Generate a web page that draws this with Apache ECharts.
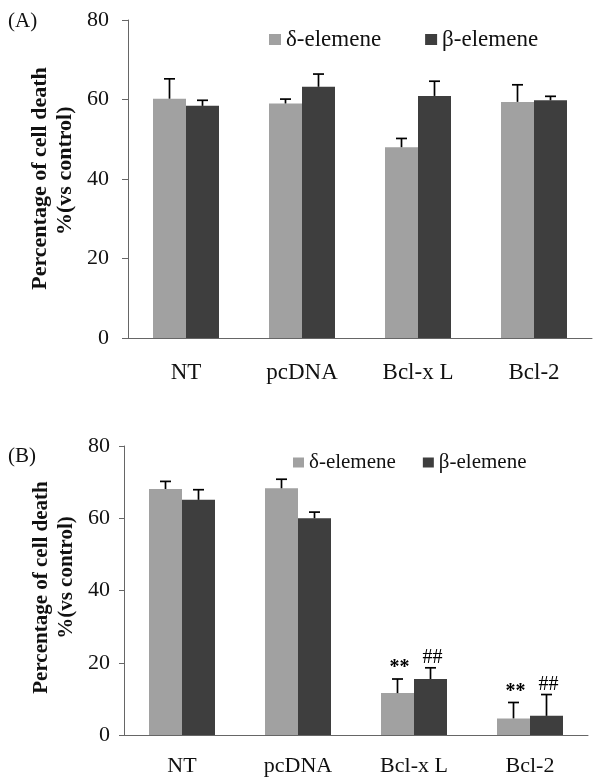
<!DOCTYPE html>
<html><head><meta charset="utf-8">
<script src="https://cdn.jsdelivr.net/npm/echarts@6/dist/echarts.min.js"></script>
<style>html,body{margin:0;padding:0;background:#fff}#c{width:594px;height:777px}</style>
</head><body><div id="c"></div>
<script>
const categories = ['NT', 'pcDNA', 'Bcl-x L', 'Bcl-2'];
const seriesNames = ['δ-elemene', 'β-elemene'];
const tickValues = [0, 20, 40, 60, 80];
// Panel A
const deltaA = [60.2, 59.0, 48.0, 59.4];
const deltaAErr = [5.0, 1.1, 2.2, 4.3];
const betaA = [58.4, 63.2, 60.9, 59.8];
const betaAErr = [1.4, 3.2, 3.7, 1.0];
// Panel B
const deltaB = [68.1, 68.3, 11.6, 4.6];
const deltaBErr = [2.1, 2.5, 3.9, 4.4];
const betaB = [65.1, 60.0, 15.5, 5.3];
const betaBErr = [2.8, 1.7, 3.1, 5.9];
const deltaBMarks = ['', '', '**', '**'];
const betaBMarks = ['', '', '##', '##'];
const noMarks = ['', '', '', ''];

const SERIF = '"Liberation Serif", "Times New Roman", serif';
const LIGHT = '#a1a1a1', DARK = '#3e3e3e', AXIS = '#666';
const BAR_W = 33;

function errRender(offset, marks, markDy) {
  return function (params, api) {
    const i = api.value(0), v = api.value(1), e = api.value(2);
    const base = api.coord([i, v]);
    const top = api.coord([i, v + e]);
    const x = base[0] + offset;
    const st = { stroke: '#000', lineWidth: 1.7 };
    const children = [
      { type: 'line', shape: { x1: x, y1: base[1], x2: x, y2: top[1] }, style: st },
      { type: 'line', shape: { x1: x - 5.5, y1: top[1], x2: x + 5.5, y2: top[1] }, style: st }
    ];
    const m = marks[params.dataIndex];
    if (m) {
      children.push({ type: 'text', x: x + 2, y: top[1] - markDy,
        style: { text: m, fontSize: 20, fontFamily: SERIF, fontWeight: m === '**' ? 'bold' : 'normal',
          fill: '#000', align: 'center', verticalAlign: 'middle', textAlign: 'center', textVerticalAlign: 'middle' } });
    }
    return { type: 'group', children };
  };
}

function errData(vals, errs) { return vals.map((v, i) => [i, v, errs[i]]); }

function yAxisCfg(gi, tickLen, margin) {
  return {
    gridIndex: gi, type: 'value', min: tickValues[0], max: tickValues[tickValues.length - 1], interval: 20,
    splitLine: { show: false },
    axisLine: { show: true, lineStyle: { color: AXIS, width: 1 } },
    axisTick: { show: true, length: tickLen, lineStyle: { color: AXIS } },
    axisLabel: { margin: margin, color: '#111', fontSize: 22, fontFamily: SERIF }
  };
}
function xAxisCfg(gi, fs, margin) {
  return {
    gridIndex: gi, type: 'category', data: categories,
    axisLine: { show: true, lineStyle: { color: AXIS, width: 1 } },
    axisTick: { show: false },
    axisLabel: { margin: margin, color: '#111', fontSize: fs, fontFamily: SERIF, interval: 0 }
  };
}
function titleText(x, y, txt, fs) {
  return { type: 'text', x: x, y: y, rotation: Math.PI / 2,
    style: { text: txt, fontSize: fs, fontWeight: 'bold', fontFamily: SERIF, fill: '#111',
      align: 'center', verticalAlign: 'middle', textAlign: 'center', textVerticalAlign: 'middle' } };
}
function plainText(x, y, txt, fs) {
  return { type: 'text', x: x, y: y,
    style: { text: txt, fontSize: fs, fontFamily: SERIF, fill: '#111',
      align: 'left', verticalAlign: 'middle', textAlign: 'left', textVerticalAlign: 'middle' } };
}

const chart = echarts.init(document.getElementById('c'), null, { renderer: 'canvas' });
chart.setOption({
  animation: false,
  backgroundColor: '#fff',
  grid: [
    { left: 128, right: 2, top: 20, bottom: 439 },
    { left: 124, right: 6, top: 446, bottom: 41 }
  ],
  legend: [
    { data: seriesNames, left: 264, top: 23, icon: 'rect', itemWidth: 12, itemHeight: 11, itemGap: 44,
      textStyle: { fontFamily: SERIF, fontSize: 23, color: '#111' } },
    { data: seriesNames, left: 288, top: 447, icon: 'rect', itemWidth: 11, itemHeight: 10, itemGap: 27,
      textStyle: { fontFamily: SERIF, fontSize: 21, color: '#111' } }
  ],
  xAxis: [xAxisCfg(0, 23, 23), xAxisCfg(1, 22, 20)],
  yAxis: [yAxisCfg(0, 6, 19), yAxisCfg(1, 5, 14)],
  series: [
    { name: seriesNames[0], type: 'bar', xAxisIndex: 0, yAxisIndex: 0, data: deltaA, barWidth: BAR_W, barGap: '0%', itemStyle: { color: LIGHT } },
    { name: seriesNames[1], type: 'bar', xAxisIndex: 0, yAxisIndex: 0, data: betaA, barWidth: BAR_W, barGap: '0%', itemStyle: { color: DARK } },
    { name: seriesNames[0], type: 'bar', xAxisIndex: 1, yAxisIndex: 1, data: deltaB, barWidth: BAR_W, barGap: '0%', itemStyle: { color: LIGHT } },
    { name: seriesNames[1], type: 'bar', xAxisIndex: 1, yAxisIndex: 1, data: betaB, barWidth: BAR_W, barGap: '0%', itemStyle: { color: DARK } },
    { type: 'custom', xAxisIndex: 0, yAxisIndex: 0, z: 5, renderItem: errRender(-BAR_W / 2, noMarks, 0), data: errData(deltaA, deltaAErr), encode: { x: 0, y: 1 } },
    { type: 'custom', xAxisIndex: 0, yAxisIndex: 0, z: 5, renderItem: errRender(BAR_W / 2, noMarks, 0), data: errData(betaA, betaAErr), encode: { x: 0, y: 1 } },
    { type: 'custom', xAxisIndex: 1, yAxisIndex: 1, z: 5, renderItem: errRender(-BAR_W / 2, deltaBMarks, 11), data: errData(deltaB, deltaBErr), encode: { x: 0, y: 1 } },
    { type: 'custom', xAxisIndex: 1, yAxisIndex: 1, z: 5, renderItem: errRender(BAR_W / 2, betaBMarks, 10), data: errData(betaB, betaBErr), encode: { x: 0, y: 1 } }
  ],
  graphic: [
    plainText(8, 21, '(A)', 21),
    plainText(8, 456, '(B)', 21),
    titleText(40.5, 178.5, 'Percentage of cell death', 22),
    titleText(65, 170.7, '%(vs control)', 22),
    titleText(42, 587.5, 'Percentage of cell death', 21),
    titleText(66.5, 577.5, '%(vs control)', 21)
  ]
});
</script>
</body></html>
